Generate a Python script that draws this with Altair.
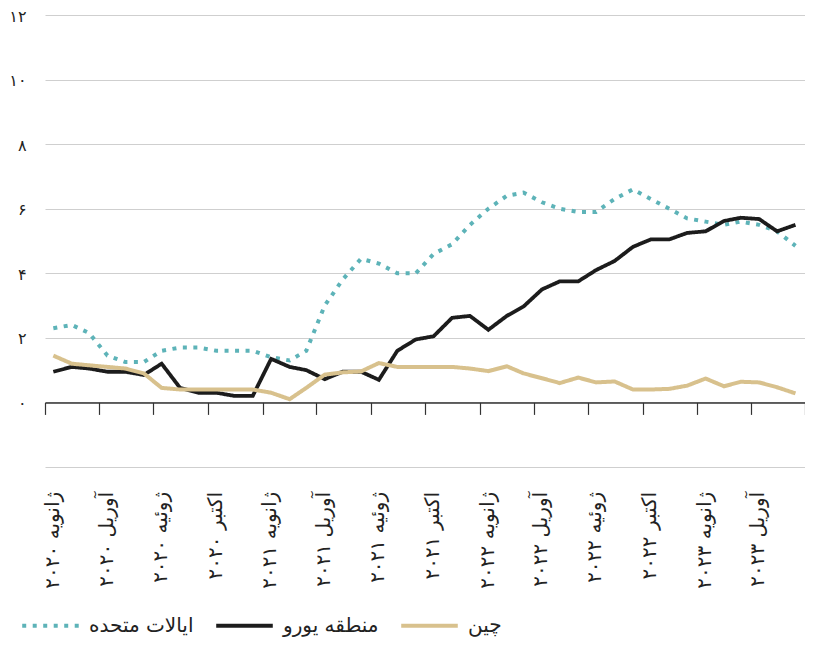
import altair as alt
import pandas as pd

US = "ایالات متحده"
EU = "منطقه یورو"
CN = "چین"

dates = [f"{y}-{m:02d}-15" for y in (2020, 2021, 2022, 2023) for m in range(1, 13)][:42]

us_vals = [2.3, 2.4, 2.15, 1.45, 1.25, 1.25, 1.6, 1.7, 1.7, 1.6, 1.6, 1.6,
           1.4, 1.3, 1.6, 3.0, 3.8, 4.45, 4.3, 4.0, 4.0, 4.6, 4.9, 5.5,
           6.0, 6.4, 6.5, 6.2, 6.0, 5.9, 5.9, 6.3, 6.6, 6.3, 6.0, 5.7,
           5.6, 5.5, 5.6, 5.5, 5.3, 4.85]
eu_vals = [0.95, 1.1, 1.05, 0.95, 0.95, 0.85, 1.2, 0.45, 0.3, 0.3, 0.2, 0.2,
           1.35, 1.1, 1.0, 0.72, 0.95, 0.95, 0.7, 1.6, 1.95, 2.05, 2.62, 2.68,
           2.25, 2.68, 2.97, 3.5, 3.75, 3.75, 4.1, 4.38, 4.82, 5.05, 5.05, 5.25,
           5.3, 5.62, 5.72, 5.68, 5.3, 5.5]
cn_vals = [1.45, 1.2, 1.15, 1.1, 1.05, 0.9, 0.45, 0.4, 0.4, 0.4, 0.4, 0.4,
           0.3, 0.1, 0.45, 0.86, 0.93, 0.96, 1.22, 1.1, 1.1, 1.1, 1.1, 1.05,
           0.97, 1.12, 0.9, 0.75, 0.6, 0.77, 0.62, 0.65, 0.4, 0.4, 0.42, 0.52,
           0.74, 0.5, 0.64, 0.62, 0.47, 0.28]

series_names = [US, EU, CN]
series_colors = ["#5db3b8", "#1c1c1c", "#d8c18d"]
series_dash = [[4, 6.5], [1, 0], [1, 0]]
series_width = [4, 3.8, 4]

y_ticks = [-2, 0, 2, 4, 6, 8, 10, 12]
y_labels = ["", "۰", "۲", "۴", "۶", "۸", "۱۰", "۱۲"]

tick_years = [2020, 2020, 2020, 2020, 2021, 2021, 2021, 2021,
              2022, 2022, 2022, 2022, 2023, 2023, 2023]
tick_months = [1, 4, 7, 10, 1, 4, 7, 10, 1, 4, 7, 10, 1, 4, 7]
tick_labels = ["ژانویه ۲۰۲۰", "آوریل ۲۰۲۰", "ژوئیه ۲۰۲۰", "اکتبر ۲۰۲۰",
               "ژانویه ۲۰۲۱", "آوریل ۲۰۲۱", "ژوئیه ۲۰۲۱", "اکتبر ۲۰۲۱",
               "ژانویه ۲۰۲۲", "آوریل ۲۰۲۲", "ژوئیه ۲۰۲۲", "اکتبر ۲۰۲۲",
               "ژانویه ۲۰۲۳", "آوریل ۲۰۲۳", ""]

rows = []
for name, vals in zip(series_names, [us_vals, eu_vals, cn_vals]):
    for d, v in zip(dates, vals):
        rows.append({"date": d, "value": v, "series": name})
df = pd.DataFrame(rows)

FONT = "DejaVu Sans"

y_expr = "''"
for v, lab in reversed(list(zip(y_ticks, y_labels))):
    y_expr = f"datum.value == {v} ? '{lab}' : ({y_expr})"

x_expr = "''"
for yy, mm, lab in reversed(list(zip(tick_years, tick_months, tick_labels))):
    txt = ("\u202b" + lab + "\u202c") if lab else ""
    x_expr = f"(utcyear(datum.value) == {yy} && utcmonth(datum.value) == {mm - 1}) ? '{txt}' : ({x_expr})"

x_values = [alt.DateTime(year=yy, month=mm, date=1, utc=True) for yy, mm in zip(tick_years, tick_months)]

color_scale = alt.Scale(domain=series_names, range=series_colors)
dash_scale = alt.Scale(domain=series_names, range=series_dash)

legend = alt.Legend(
    title=None, orient="none", legendX=-25, legendY=580, direction="horizontal",
    symbolType="stroke", symbolSize=3200, symbolStrokeWidth=4,
    labelFontSize=20, labelFont=FONT, labelColor="#222", labelOffset=8,
    columnPadding=14, labelLimit=300,
)

base = alt.Chart(df).encode(
    x=alt.X("date:T",
            scale=alt.Scale(domain=[alt.DateTime(year=2020, month=1, date=1, utc=True),
                                    alt.DateTime(year=2023, month=7, date=1, utc=True)]),
            axis=alt.Axis(values=x_values, labelExpr=x_expr, labelAngle=270,
                          tickSize=12, tickColor="#333", tickWidth=1.2,
                          domainColor="#333", domainWidth=1.5,
                          offset=-64.6, labelPadding=77, labelOffset=7,
                          labelFontSize=20, labelFont=FONT, labelColor="#222",
                          labelOverlap=False, labelFlush=False, labelBound=False,
                          grid=False, title=None)),
    y=alt.Y("value:Q",
            scale=alt.Scale(domain=[-2, 12], nice=False, zero=False),
            axis=alt.Axis(values=y_ticks, labelExpr=y_expr, title=None,
                          domain=False, ticks=False, grid=True, gridColor="#cfcfcf",
                          gridWidth=1.2, labelFontSize=16, labelFont=FONT,
                          labelColor="#222", labelPadding=19, labelOffset=1)),
    color=alt.Color("series:N", scale=color_scale, legend=legend),
    strokeDash=alt.StrokeDash("series:N", scale=dash_scale, legend=legend),
)

layers = []
for name, w in zip(series_names, series_width):
    layers.append(
        base.transform_filter(alt.datum.series == name).mark_line(strokeWidth=w, strokeCap="butt")
    )

chart = alt.layer(*layers).properties(
    width=760, height=452,
    autosize=alt.AutoSizeParams(type="none"),
    padding={"left": 37, "top": 7, "right": 0, "bottom": 173},
    background="white",
).configure_view(stroke=None)

chart.save("out.html", embed_options={"renderer": "svg", "actions": False})
